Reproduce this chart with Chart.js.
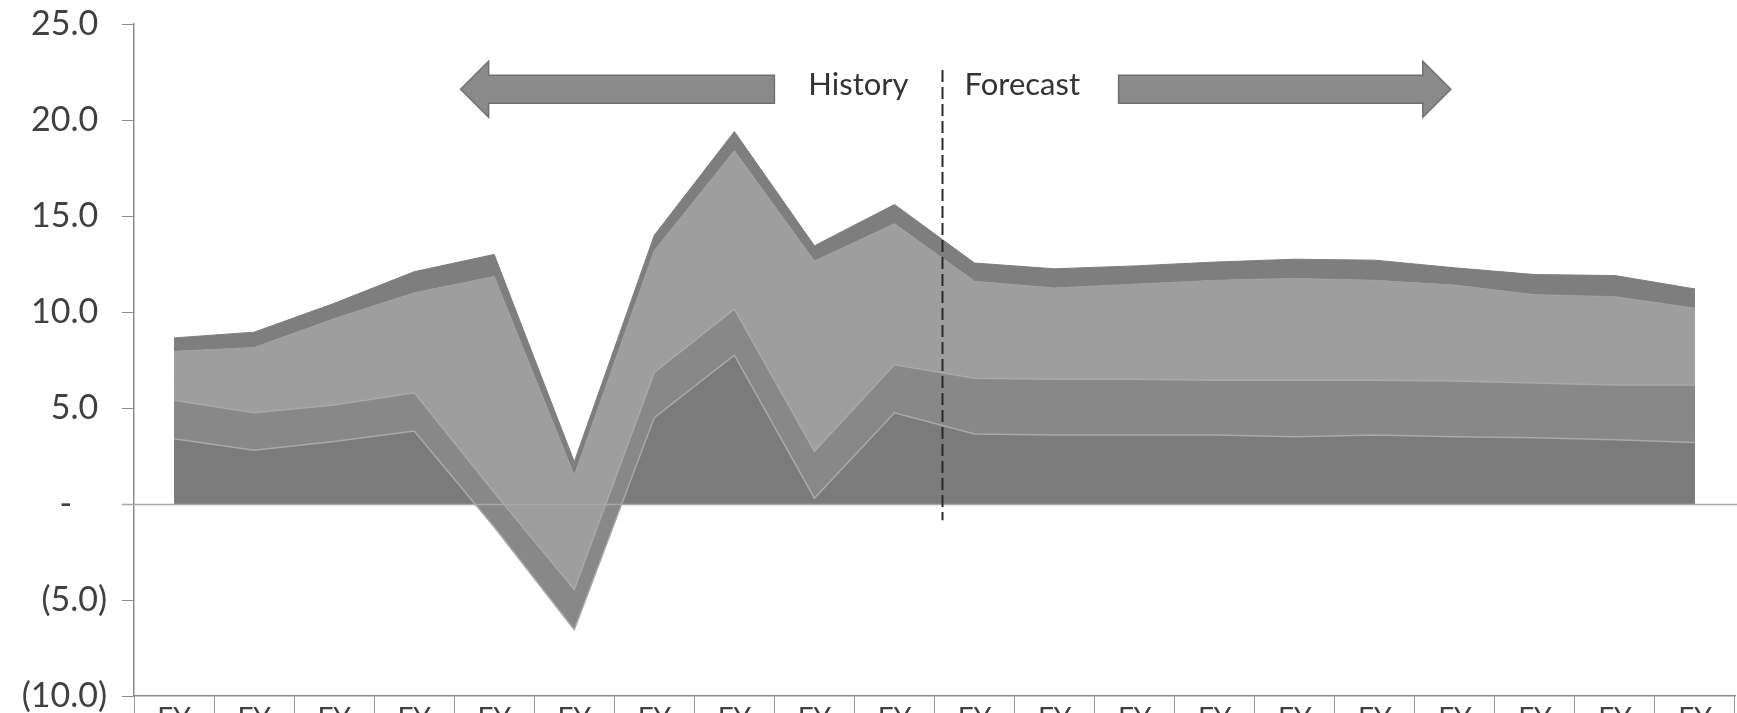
<!DOCTYPE html>
<html><head><meta charset="utf-8">
<script src="https://cdn.jsdelivr.net/npm/chart.js@4.4.1/dist/chart.umd.min.js"></script>
<style>html,body{margin:0;padding:0;background:#fff;overflow:hidden}#wrap{width:1737px;height:713px;position:relative}</style>
</head><body><div id="wrap"><canvas id="c" width="1737" height="713"></canvas></div>
<script>
const categories = ['FY','FY','FY','FY','FY','FY','FY','FY','FY','FY','FY','FY','FY','FY','FY','FY','FY','FY','FY','FY'];
const seriesBottom = [3.4, 2.8, 3.25, 3.8, -1.2, -6.55, 4.5, 7.75, 0.3, 4.75, 3.65, 3.6, 3.6, 3.6, 3.5, 3.6, 3.5, 3.45, 3.35, 3.2];
const seriesMid    = [2.0, 1.95, 1.9, 2.0, 1.8, 2.1, 2.35, 2.4, 2.45, 2.5, 2.9, 2.9, 2.9, 2.85, 2.95, 2.85, 2.9, 2.85, 2.85, 3.0];
const seriesLight  = [2.55, 3.4, 4.5, 5.2, 11.25, 5.95, 6.35, 8.25, 9.9, 7.35, 5.05, 4.75, 4.95, 5.2, 5.3, 5.2, 5.0, 4.6, 4.6, 4.0];
const seriesTop    = [0.7, 0.8, 0.8, 1.1, 1.15, 0.7, 0.8, 1.0, 0.8, 1.0, 0.95, 1.0, 0.95, 0.95, 1.0, 1.05, 0.9, 1.05, 1.1, 1.0];
const yTickValues = [-10, -5, 0, 5, 10, 15, 20, 25];
const historyLabel = 'History';
const forecastLabel = 'Forecast';
const lastHistoryIndex = 9;

const FONT = 'Lato, "Open Sans", sans-serif';

function fmtTick(v) {
  if (v > 0) return v.toFixed(1) + ' ';
  if (v === 0) return '-    ';
  return '(' + Math.abs(v).toFixed(1) + ')';
}

const annotate = {
  id: 'annotate',
  afterDatasetsDraw(chart) {
    const {ctx, chartArea, scales: {y}} = chart;
    ctx.save();
    ctx.strokeStyle = '#a8a8a8';
    ctx.lineWidth = 1.5;
    const y0 = Math.round(y.getPixelForValue(0)) + 0.5;
    ctx.beginPath();
    ctx.moveTo(chartArea.left - 12, y0);
    ctx.lineTo(chart.width, y0);
    ctx.stroke();
    ctx.restore();
  },
  afterDraw(chart) {
    const {ctx, scales: {x, y}} = chart;
    const step = x.getPixelForValue(1) - x.getPixelForValue(0);
    const xd = (x.getPixelForValue(lastHistoryIndex) + x.getPixelForValue(lastHistoryIndex + 1)) / 2 + 0.1 * step;
    ctx.save();
    ctx.strokeStyle = '#2a2a2a';
    ctx.lineWidth = 2;
    ctx.setLineDash([12, 5]);
    ctx.beginPath();
    ctx.moveTo(xd, y.getPixelForValue(22.6));
    ctx.lineTo(xd, y.getPixelForValue(-0.85));
    ctx.stroke();
    ctx.setLineDash([]);
    const ty = y.getPixelForValue(21.8);
    ctx.fillStyle = '#333333';
    ctx.font = '31px ' + FONT;
    ctx.textBaseline = 'middle';
    ctx.textAlign = 'right';
    ctx.fillText(historyLabel, xd - 34, ty);
    ctx.textAlign = 'left';
    ctx.fillText(forecastLabel, xd + 22, ty);
    const ay = y.getPixelForValue(21.6);
    const sh = 14, hh = 28, hl = 28;
    function arrow(tail, tip) {
      const dir = tip > tail ? 1 : -1;
      const base = tip - dir * hl;
      ctx.beginPath();
      ctx.moveTo(tail, ay - sh);
      ctx.lineTo(base, ay - sh);
      ctx.lineTo(base, ay - hh);
      ctx.lineTo(tip, ay);
      ctx.lineTo(base, ay + hh);
      ctx.lineTo(base, ay + sh);
      ctx.lineTo(tail, ay + sh);
      ctx.closePath();
      ctx.fillStyle = '#8a8a8a';
      ctx.fill();
      ctx.strokeStyle = '#6f6f6f';
      ctx.lineWidth = 1.5;
      ctx.stroke();
    }
    arrow(xd - 2.1 * step, xd - 6.02 * step);
    arrow(xd + 2.2 * step, xd + 6.35 * step);
    ctx.restore();
  }
};

new Chart(document.getElementById('c'), {
  type: 'line',
  data: {
    labels: categories,
    datasets: [
      { label: 'Bottom', data: seriesBottom, fill: {target: 'origin', above: '#7b7b7b', below: 'rgba(0,0,0,0)'},
        backgroundColor: '#7b7b7b', borderColor: '#a9a9a9', borderWidth: 1.5 },
      { label: 'Mid', data: seriesMid, fill: '-1', backgroundColor: '#888888', borderColor: '#a9a9a9', borderWidth: 1.5 },
      { label: 'Light', data: seriesLight, fill: '-1', backgroundColor: '#9e9e9e', borderColor: '#9e9e9e', borderWidth: 1 },
      { label: 'Top', data: seriesTop, fill: '-1', backgroundColor: '#7e7e7e', borderColor: '#7e7e7e', borderWidth: 1 }
    ]
  },
  options: {
    responsive: false,
    animation: false,
    devicePixelRatio: 1,
    layout: { padding: { top: 24, right: 2, left: 0, bottom: 0 } },
    elements: { point: { radius: 0, hoverRadius: 0 }, line: { tension: 0 } },
    plugins: { legend: { display: false }, tooltip: { enabled: false } },
    scales: {
      x: {
        type: 'category',
        offset: true,
        border: { display: true, color: '#8c8c8c', width: 1.5 },
        grid: { display: true, offset: true, drawOnChartArea: false, drawTicks: true, tickLength: 17, color: '#9a9a9a', lineWidth: 1 },
        ticks: { font: { family: FONT, size: 28 }, color: '#404040', padding: -11, maxRotation: 0, autoSkip: false },
        afterFit(s) { s.height = 17; s.paddingLeft = 0; s.paddingRight = 0; s.paddingTop = 0; s.paddingBottom = 0; }
      },
      y: {
        stacked: 'single',
        min: -10, max: 25,
        afterBuildTicks(s) { s.ticks = yTickValues.map(v => ({ value: v })); },
        border: { display: true, color: '#8c8c8c', width: 1.5 },
        grid: { drawOnChartArea: false, drawTicks: true, tickLength: 12, color: '#8c8c8c' },
        ticks: { callback: fmtTick, font: { family: FONT, size: 34 }, color: '#404040', padding: 15 },
        afterFit(s) { s.width = 134; s.paddingTop = 0; s.paddingBottom = 0; s.paddingLeft = 0; s.paddingRight = 0; }
      }
    }
  },
  plugins: [annotate]
});
</script>
</body></html>
